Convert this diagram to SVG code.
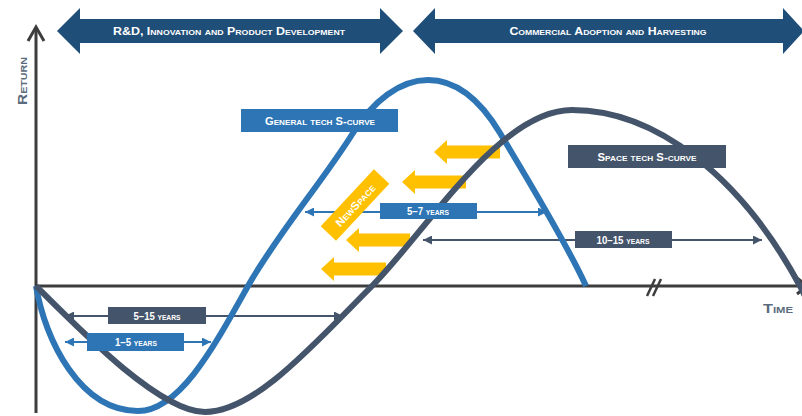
<svg xmlns="http://www.w3.org/2000/svg" width="802" height="416" viewBox="0 0 802 416">
<style>
.ax{fill:none;stroke:#3d3d3d;stroke-width:3}
.crv{fill:none;stroke-width:6}
.blue{stroke:#2e75b6}
.dark{stroke:#44546a}
.dimb{stroke:#2e75b6;stroke-width:2;fill:none}
.dimd{stroke:#44546a;stroke-width:2;fill:none}
.yl{fill:#ffc000}
.lbl{font-family:"Liberation Sans",Arial,sans-serif;font-weight:bold;font-variant:small-caps;fill:#fff;text-anchor:middle;dominant-baseline:central}
.axl{font-family:"Liberation Sans",Arial,sans-serif;font-weight:bold;font-variant:small-caps;fill:#5a6b7d;text-anchor:middle;dominant-baseline:central}
</style>
<defs>
<marker id="hb" viewBox="0 0 10 10" refX="10" refY="5" markerWidth="9" markerHeight="9" markerUnits="userSpaceOnUse" orient="auto-start-reverse"><path d="M0,0 L10,5 L0,10 z" fill="#2e75b6"/></marker>
<marker id="hd" viewBox="0 0 10 10" refX="10" refY="5" markerWidth="9" markerHeight="9" markerUnits="userSpaceOnUse" orient="auto-start-reverse"><path d="M0,0 L10,5 L0,10 z" fill="#44546a"/></marker>
</defs>

<g id="banner-rd">
<polygon points="57,31 80,8 80,19 380,19 380,8 403,31 380,54 380,43 80,43 80,54" fill="#1f4e79"/>
<text class="lbl" x="229" y="31" font-size="10" textLength="232" lengthAdjust="spacingAndGlyphs">R&amp;D, Innovation and Product Development</text>
</g>
<g id="banner-commercial">
<polygon points="413,31 435,8 435,19 783,19 783,8 804,31 783,54 783,43 435,43 435,54" fill="#1f4e79"/>
<text class="lbl" x="608" y="31" font-size="10" textLength="197" lengthAdjust="spacingAndGlyphs">Commercial Adoption and Harvesting</text>
</g>

<g id="axes">
<line class="ax" x1="36" y1="413" x2="36" y2="29"/>
<polyline class="ax" points="28,41 36,27 44,41"/>
<line class="ax" x1="36" y1="286" x2="806" y2="286"/>
<polyline class="ax" points="797,278 807,286 797,294"/>
<line x1="647" y1="296" x2="655" y2="279" stroke="#3d3d3d" stroke-width="2.5"/>
<line x1="653" y1="296" x2="661" y2="279" stroke="#3d3d3d" stroke-width="2.5"/>
<text class="axl" transform="translate(22,81) rotate(-90)" font-size="13" textLength="48" lengthAdjust="spacingAndGlyphs">Return</text>
<text class="axl" x="778" y="308" font-size="13" textLength="30" lengthAdjust="spacingAndGlyphs">Time</text>
</g>

<g id="newspace-arrows">
<polygon class="yl" points="434,152 447,140 447,145.5 500,145.5 500,158.5 447,158.5 447,164"/>
<polygon class="yl" points="402,182 415,170 415,175.5 466,175.5 466,188.5 415,188.5 415,194"/>
<polygon class="yl" points="346,240 359,228 359,233.5 410,233.5 410,246.5 359,246.5 359,252"/>
<polygon class="yl" points="321,269 334,257 334,262.5 386,262.5 386,275.5 334,275.5 334,281"/>
</g>

<g id="connectors">
<line class="dimb" x1="305" y1="212" x2="547" y2="212" marker-start="url(#hb)" marker-end="url(#hb)"/>
<line class="dimd" x1="423" y1="240" x2="762" y2="240" marker-start="url(#hd)" marker-end="url(#hd)"/>
<line class="dimd" x1="65" y1="316" x2="343" y2="316" marker-start="url(#hd)" marker-end="url(#hd)"/>
<line class="dimb" x1="65" y1="342" x2="211" y2="342" marker-start="url(#hb)" marker-end="url(#hb)"/>
</g>

<g id="curve-general">
<path class="crv blue" d="M36,286 C45,340 80,411 138,411 C180,411 215,345 248,286 C276,236 323,181 353,133 C373,101 400,80 428,80 C458,80 482,103 500,133 C525,175 566,242 586,286"/>
</g>
<g id="curve-space">
<path class="crv dark" d="M36,286 C80,330 160,412 205,412 C255,412 315,343 372,286 C428,229 500,110 572,110 C655,110 740,175 800,286 L805,296"/>
</g>

<g id="label-general">
<rect x="241" y="109" width="157" height="23" fill="#2e75b6"/>
<text class="lbl" x="320" y="121" font-size="11" textLength="110" lengthAdjust="spacingAndGlyphs">General tech S-curve</text>
</g>
<g id="label-space">
<rect x="568" y="145" width="158" height="23" fill="#44546a"/>
<text class="lbl" x="647" y="157" font-size="11" textLength="99" lengthAdjust="spacingAndGlyphs">Space tech S-curve</text>
</g>
<g id="label-5-7">
<rect x="380" y="203" width="97" height="16" fill="#2e75b6"/>
<text class="lbl" x="428" y="211.5" font-size="10" textLength="42" lengthAdjust="spacingAndGlyphs">5–7 years</text>
</g>
<g id="label-10-15">
<rect x="575" y="231" width="97" height="17" fill="#44546a"/>
<text class="lbl" x="623" y="240" font-size="10" textLength="53" lengthAdjust="spacingAndGlyphs">10–15 years</text>
</g>
<g id="label-5-15">
<rect x="108" y="307" width="98" height="17" fill="#44546a"/>
<text class="lbl" x="157" y="316" font-size="10" textLength="47" lengthAdjust="spacingAndGlyphs">5–15 years</text>
</g>
<g id="label-1-5">
<rect x="87" y="333" width="97" height="18" fill="#2e75b6"/>
<text class="lbl" x="136" y="342.5" font-size="10" textLength="42" lengthAdjust="spacingAndGlyphs">1–5 years</text>
</g>
<g id="label-newspace" transform="translate(355,205) rotate(-47)">
<rect x="-39" y="-10.5" width="78" height="21" fill="#ffc000"/>
<text class="lbl" x="0" y="0.5" font-size="11" textLength="53" lengthAdjust="spacingAndGlyphs">NewSpace</text>
</g>
</svg>
